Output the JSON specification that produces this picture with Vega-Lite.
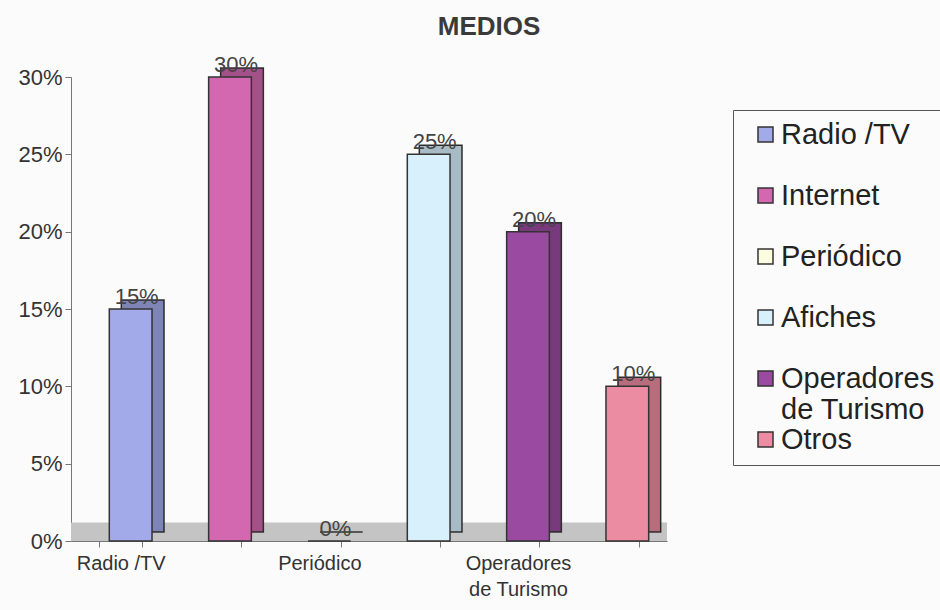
{
  "$schema": "https://vega.github.io/schema/vega-lite/v6.json",
  "autosize": "none",
  "width": 596,
  "height": 464,
  "padding": {"left": 71, "top": 77, "right": 273, "bottom": 69},
  "background": "#fbfbfb",
  "title": {"text": "MEDIOS", "fontSize": 26, "fontWeight": "bold", "color": "#3a3a3a", "font": "Liberation Sans", "dx": 120, "offset": 14},
  "config": {
    "font": "Liberation Sans",
    "view": {"stroke": null}
  },
  "data": {"values": [
    {"medio": "Radio /TV", "valor": 0.15},
    {"medio": "Internet", "valor": 0.30},
    {"medio": "Periódico", "valor": 0.0},
    {"medio": "Afiches", "valor": 0.25},
    {"medio": "Operadores de Turismo", "valor": 0.20},
    {"medio": "Otros", "valor": 0.10}
  ]},
  "layer": [
    {
      "data": {"values": [{}]},
      "mark": {"type": "rect", "color": "#c4c4c4"},
      "encoding": {
        "y": {"datum": 0, "type": "quantitative", "scale": {"domain": [0, 0.3]}},
        "y2": {"datum": 0.012}
      }
    },
    {
      "layer": [
        {
          "mark": {"type": "bar", "xOffset": 22, "yOffset": -9, "stroke": "#333333", "strokeWidth": 1.5},
          "encoding": {
            "color": {"field": "medio", "type": "nominal", "sort": null}
          }
        },
        {
          "mark": {"type": "bar", "xOffset": 22, "yOffset": -9, "color": "#000000", "opacity": 0.22}
        },
        {
          "mark": {"type": "bar", "xOffset": 10, "stroke": "#333333", "strokeWidth": 1.5},
          "encoding": {
            "color": {
              "field": "medio", "type": "nominal", "sort": null,
              "scale": {
                "domain": ["Radio /TV", "Internet", "Periódico", "Afiches", "Operadores de Turismo", "Otros"],
                "range": ["#a3aaea", "#d468b0", "#fcfce0", "#d8f0fb", "#9a4aa0", "#ec8ca2"]
              },
              "legend": {
                "title": null, "orient": "none", "legendX": 662, "legendY": 33,
                "direction": "vertical", "gridAlign": "all",
                "labelExpr": "datum.value == 'Operadores de Turismo' ? ['Operadores', 'de Turismo'] : datum.value",
                "labelFontSize": 29, "labelColor": "#222222", "labelLimit": 300, "labelOffset": 1, "labelLineHeight": 31,
                "symbolType": "square", "symbolSize": 225, "symbolStrokeColor": "#333333", "symbolStrokeWidth": 1.5,
                "symbolOffset": 8,
                "rowPadding": 0, "strokeColor": "#555555", "padding": 10, "fillColor": "#fbfbfb"
              }
            }
          }
        },
        {
          "mark": {"type": "text", "xOffset": 16, "dy": -12, "fontSize": 22, "color": "#444444"},
          "encoding": {
            "text": {"field": "valor", "type": "quantitative", "format": ".0%"}
          }
        }
      ],
      "encoding": {
        "x": {
          "field": "medio", "type": "nominal", "sort": null,
          "scale": {"paddingInner": 0.57, "paddingOuter": 0.285},
          "axis": {
            "title": null, "labelAngle": 0, "tickBand": "extent",
            "labelExpr": "datum.value == 'Radio /TV' || datum.value == 'Periódico' ? datum.value : (datum.value == 'Operadores de Turismo' ? ['Operadores', 'de Turismo'] : '')",
            "labelFontSize": 20, "labelColor": "#333333", "labelPadding": 6,
            "domainColor": "#777777", "tickColor": "#777777", "tickSize": 6, "labelLineHeight": 26
          }
        },
        "y": {
          "field": "valor", "type": "quantitative",
          "scale": {"domain": [0, 0.3]},
          "axis": {
            "title": null, "format": ".0%", "values": [0, 0.05, 0.1, 0.15, 0.2, 0.25, 0.3],
            "labelFontSize": 22, "labelColor": "#333333", "labelPadding": 3,
            "domainColor": "#777777", "tickColor": "#777777", "tickSize": 6,
            "gridColor": "#9a9a9a", "gridWidth": 1
          }
        }
      }
    }
  ]
}
